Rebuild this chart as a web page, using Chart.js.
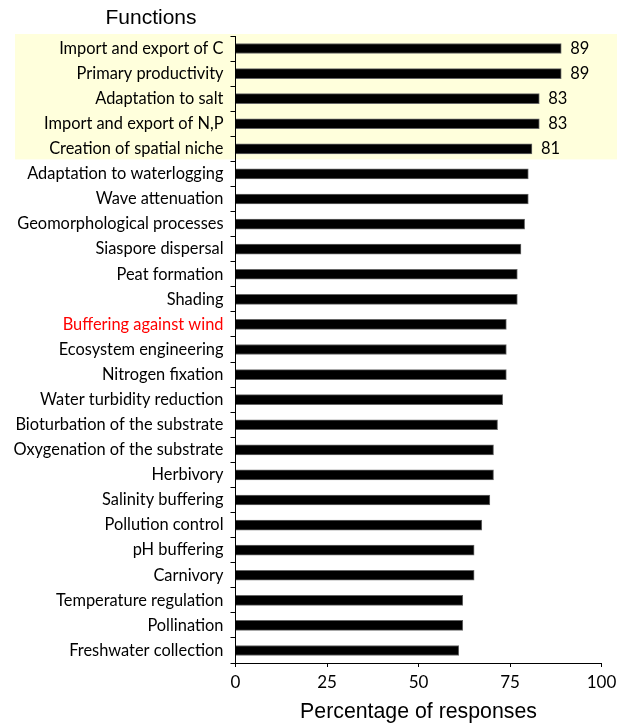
<!DOCTYPE html>
<html>
<head>
<meta charset="utf-8">
<script src="https://cdn.jsdelivr.net/npm/chart.js@4.4.1/dist/chart.umd.min.js"></script>
<style>
html,body{margin:0;padding:0;background:#fff;}
#c{display:block;}
</style>
</head>
<body>
<canvas id="c" width="629" height="725"></canvas>
<script>
const categories = [
  "Import and export of C","Primary productivity","Adaptation to salt","Import and export of N,P",
  "Creation of spatial niche","Adaptation to waterlogging","Wave attenuation","Geomorphological processes",
  "Siaspore dispersal","Peat formation","Shading","Buffering against wind","Ecosystem engineering",
  "Nitrogen fixation","Water turbidity reduction","Bioturbation of the substrate","Oxygenation of the substrate",
  "Herbivory","Salinity buffering","Pollution control","pH buffering","Carnivory","Temperature regulation",
  "Pollination","Freshwater collection"
];
const values = [89,89,83,83,81,80,80,79,78,77,77,74,74,74,73,71.6,70.5,70.5,69.5,67.3,65.2,65.2,62.1,62.1,61];
const highlightedCategories = ["Import and export of C","Primary productivity","Adaptation to salt","Import and export of N,P","Creation of spatial niche"];
const labelledCategories = highlightedCategories;
const redCategories = ["Buffering against wind"];
const xTicks = [0,25,50,75,100];
const yTitle = "Functions";
const xTitle = "Percentage of responses";

const LABEL_FONT = "Lato";

const bgPlugin = {
  id: 'bg',
  beforeDraw(chart) {
    const ctx = chart.ctx, y = chart.scales.y, area = chart.chartArea;
    const idx = highlightedCategories.map(c => categories.indexOf(c));
    const last = Math.max(...idx);
    const step = y.getPixelForValue(1) - y.getPixelForValue(0);
    ctx.save();
    ctx.fillStyle = '#FFFFDC';
    const top = area.top - 2;
    const bottom = y.getPixelForValue(last) + step / 2 - 2;
    ctx.fillRect(15, top, 602, bottom - top);
    ctx.restore();
  },
  afterDraw(chart) {
    const ctx = chart.ctx;
    ctx.save();
    ctx.fillStyle = '#000';
    ctx.font = '21px "Liberation Sans", Arial, sans-serif';
    ctx.textAlign = 'center';
    ctx.textBaseline = 'middle';
    ctx.fillText(yTitle, 151, 18);
    const meta = chart.getDatasetMeta(0);
    ctx.font = '16.5px ' + LABEL_FONT;
    ctx.textAlign = 'left';
    labelledCategories.forEach(c => {
      const i = categories.indexOf(c);
      const el = meta.data[i];
      ctx.fillText(String(Math.round(values[i])), el.x + 9, el.y);
    });
    ctx.restore();
  }
};

new Chart(document.getElementById('c'), {
  type: 'bar',
  data: {
    labels: categories,
    datasets: [{
      data: values,
      backgroundColor: '#000',
      borderColor: '#666',
      borderWidth: 1,
      barThickness: 10
    }]
  },
  options: {
    indexAxis: 'y',
    responsive: false,
    animation: false,
    devicePixelRatio: 1,
    layout: { padding: { top: 36, right: 27.5, bottom: 0, left: 0 } },
    plugins: { legend: { display: false }, tooltip: { enabled: false } },
    scales: {
      x: {
        min: 0, max: 100,
        afterBuildTicks: s => { s.ticks = xTicks.map(v => ({ value: v })); },
        afterFit: s => { s.height = 62; },
        grid: { drawOnChartArea: false, drawTicks: true, tickLength: 4, color: '#000', tickColor: '#000' },
        border: { color: '#000', width: 1 },
        ticks: { color: '#000', font: { family: LABEL_FONT, size: 17 }, padding: 5, maxRotation: 0 },
        title: { display: true, text: xTitle, color: '#000', font: { family: '"Liberation Sans", Arial, sans-serif', size: 21.3 }, padding: { top: 0, bottom: 0 } }
      },
      y: {
        afterFit: s => { s.width = 235.5; },
        grid: { drawOnChartArea: false, drawTicks: true, tickLength: 5, color: '#000', tickColor: '#000', offset: true },
        border: { color: '#000', width: 1 },
        ticks: {
          color: ctx => redCategories.includes(categories[ctx.index]) ? '#FF0000' : '#000',
          font: { family: LABEL_FONT, size: 16.4 },
          padding: 7,
          autoSkip: false
        }
      }
    }
  },
  plugins: [bgPlugin]
});
</script>
</body>
</html>
